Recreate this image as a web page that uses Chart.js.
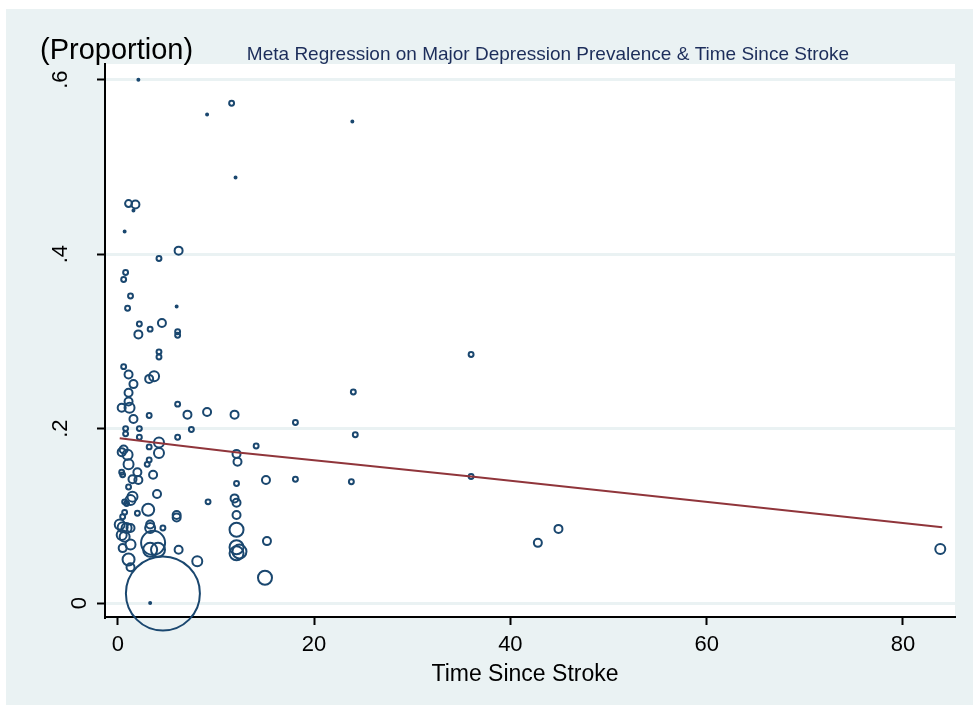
<!DOCTYPE html>
<html>
<head>
<meta charset="utf-8">
<script src="https://cdn.jsdelivr.net/npm/chart.js@4.4.1/dist/chart.umd.min.js"></script>
<style>
  body { margin: 0; background: #fff; }
  #wrap { width: 973px; height: 709px; }
</style>
</head>
<body>
<div id="wrap"><canvas id="metaChart"></canvas></div>
<script>
// study points: time since stroke (months), proportion depressed, study weight
const timeSince = [2.1, 9.1, 11.6, 23.9, 12.0, 1.1, 1.8, 1.6, 0.7, 6.2,
  4.2, 0.8, 0.6, 1.3, 1.0, 6.0, 2.2, 4.5, 3.3, 2.1,
  6.1, 6.1, 4.2, 4.2, 0.6, 1.1, 3.2, 3.7, 1.6, 1.1,
  1.1, 0.4, 1.2, 1.6, 6.1, 7.1, 9.1, 11.9, 18.1, 3.2,
  0.8, 0.8, 2.2, 2.2, 6.1, 7.5, 14.1, 24.0, 24.2, 23.8,
  36.0, 36.0, 42.8, 44.9, 83.8, 0.6, 1.0, 0.4, 4.2, 4.2,
  3.2, 12.1, 12.2, 3.2, 3.0, 1.1, 0.4, 0.5, 2.0, 2.1,
  3.6, 1.5, 12.1, 15.1, 18.1, 1.1, 4.0, 1.5, 1.3, 0.7,
  0.9, 3.1, 9.2, 11.9, 12.1, 12.1, 6.0, 6.0, 0.7, 0.5,
  2.0, 3.3, 3.3, 4.6, 0.2, 0.5, 0.9, 1.3, 0.4, 0.7,
  12.1, 15.2, 0.5, 1.3, 3.6, 3.3, 4.1, 12.1, 12.1, 12.4,
  6.2, 1.1, 8.1, 1.3, 15.0, 4.6, 3.3];
const proportion = [0.600, 0.560, 0.573, 0.552, 0.488, 0.458, 0.457, 0.450, 0.426, 0.404,
  0.395, 0.379, 0.371, 0.352, 0.338, 0.340, 0.320, 0.321, 0.314, 0.308,
  0.311, 0.307, 0.288, 0.282, 0.271, 0.262, 0.257, 0.260, 0.251, 0.241,
  0.231, 0.224, 0.224, 0.211, 0.228, 0.216, 0.219, 0.216, 0.207, 0.215,
  0.200, 0.194, 0.200, 0.190, 0.190, 0.199, 0.180, 0.242, 0.193, 0.139,
  0.285, 0.145, 0.069, 0.085, 0.062, 0.176, 0.170, 0.173, 0.184, 0.172,
  0.179, 0.171, 0.162, 0.164, 0.159, 0.159, 0.150, 0.147, 0.150, 0.141,
  0.147, 0.142, 0.137, 0.141, 0.142, 0.133, 0.125, 0.122, 0.118, 0.116,
  0.114, 0.107, 0.116, 0.120, 0.115, 0.101, 0.101, 0.098, 0.104, 0.099,
  0.103, 0.090, 0.086, 0.086, 0.090, 0.087, 0.086, 0.086, 0.078, 0.076,
  0.084, 0.071, 0.063, 0.067, 0.069, 0.061, 0.061, 0.064, 0.057, 0.059,
  0.061, 0.050, 0.048, 0.041, 0.029, 0.011, 0.000];
const studyWeight = [1, 1, 6, 1, 1, 12, 16, 1, 1, 16,
  6, 6, 6, 6, 6, 1, 6, 16, 6, 16,
  6, 6, 6, 6, 6, 16, 16, 25, 16, 16,
  16, 16, 25, 16, 6, 16, 16, 16, 6, 6,
  6, 6, 6, 6, 6, 6, 6, 6, 6, 6,
  6, 6, 16, 16, 25, 16, 25, 16, 25, 25,
  6, 16, 16, 6, 6, 25, 6, 6, 16, 16,
  16, 16, 6, 16, 6, 6, 16, 25, 25, 6,
  6, 36, 6, 16, 16, 16, 16, 16, 6, 6,
  6, 16, 25, 6, 25, 25, 25, 16, 25, 25,
  49, 16, 16, 25, 144, 49, 49, 49, 49, 49,
  16, 36, 25, 16, 49, 1369, 1];

// fitted meta-regression line
const fitTime = [0.2, 6, 12, 24, 36, 84];
const fitProp = [0.189, 0.181, 0.173, 0.159, 0.145, 0.087];

const xTicks = [0, 20, 40, 60, 80];
const yTicks = [0, 0.2, 0.4, 0.6];
const yTickLabels = ['0', '.2', '.4', '.6'];

const FONT = "'Liberation Sans', Arial, sans-serif";
const navy = '#1a476f';
const maroon = '#90353b';
const bgGrey = '#eaf2f3';

const bubbles = timeSince.map((t, i) => ({ x: t, y: proportion[i], r: Math.sqrt(studyWeight[i]) }));
const fitLine = fitTime.map((t, i) => ({ x: t, y: fitProp[i] }));

// backdrop, titles and rotated y labels drawn Stata style
const stataLook = {
  id: 'stataLook',
  beforeDraw(chart) {
    const { ctx, chartArea: a } = chart;
    ctx.save();
    ctx.fillStyle = '#fff';
    ctx.fillRect(0, 0, chart.width, chart.height);
    ctx.fillStyle = bgGrey;
    ctx.fillRect(6, 9, chart.width - 6, 696);
    ctx.fillStyle = '#fff';
    ctx.fillRect(a.left, a.top, a.right - a.left, a.bottom - a.top);
    ctx.restore();
  },
  afterDraw(chart) {
    const { ctx } = chart;
    const ys = chart.scales.y;
    ctx.save();
    ctx.fillStyle = '#000';
    ctx.font = '29px ' + FONT;
    ctx.textAlign = 'left';
    ctx.textBaseline = 'alphabetic';
    ctx.fillText('(Proportion)', 40, 59);

    ctx.fillStyle = '#1c2d5a';
    ctx.font = '19px ' + FONT;
    ctx.textAlign = 'center';
    ctx.fillText('Meta Regression on Major Depression Prevalence & Time Since Stroke', 548, 60);

    ctx.fillStyle = '#000';
    ctx.font = '23px ' + FONT;
    ctx.fillText('Time Since Stroke', 525, 681);

    ctx.font = '22px ' + FONT;
    yTicks.forEach((v, i) => {
      const py = ys.getPixelForValue(v);
      const lab = yTickLabels[i];
      ctx.save();
      ctx.translate(lab.length > 1 ? 67 : 86, py);
      ctx.rotate(-Math.PI / 2);
      ctx.textAlign = 'center';
      ctx.fillText(lab, 0, 0);
      ctx.restore();
    });
    ctx.restore();
  }
};

const ctx = document.getElementById('metaChart').getContext('2d');
const myChart = new Chart(ctx, {
  type: 'bubble',
  data: {
    datasets: [{
      type: 'line',
      label: 'Fitted',
      data: fitLine,
      borderColor: maroon,
      borderWidth: 2,
      pointRadius: 0,
      fill: false,
      order: 0
    }, {
      label: 'Studies',
      data: bubbles,
      backgroundColor: 'rgba(0,0,0,0)',
      borderColor: navy,
      borderWidth: 2,
      clip: false,
      order: 1
    }]
  },
  options: {
    responsive: true,
    maintainAspectRatio: false,
    animation: false,
    events: [],
    layout: { autoPadding: false, padding: { left: 75, top: 64, right: 18, bottom: 0 } },
    plugins: { legend: { display: false }, tooltip: { enabled: false } },
    scales: {
      x: {
        type: 'linear',
        min: -1.3,
        max: 85.3,
        afterBuildTicks: s => { s.ticks = xTicks.map(v => ({ value: v })); },
        afterFit: s => { s.height = 92; s.paddingLeft = 0; s.paddingRight = 0; },
        border: { display: true, color: '#000', width: 2 },
        grid: { drawOnChartArea: false, drawTicks: true, tickLength: 8, tickColor: '#000', tickWidth: 2 },
        ticks: { color: '#000', font: { family: FONT, size: 22 }, padding: 7, maxRotation: 0 }
      },
      y: {
        type: 'linear',
        min: -0.016,
        max: 0.618,
        afterBuildTicks: s => { s.ticks = yTicks.map(v => ({ value: v })); },
        afterFit: s => { s.width = 30; },
        border: { display: true, color: '#000', width: 2 },
        grid: { color: bgGrey, lineWidth: 3, drawTicks: true, tickLength: 8, tickColor: '#000', tickWidth: 2 },
        ticks: { display: false }
      }
    }
  },
  plugins: [stataLook]
});
myChart.update();
</script>
</body>
</html>
